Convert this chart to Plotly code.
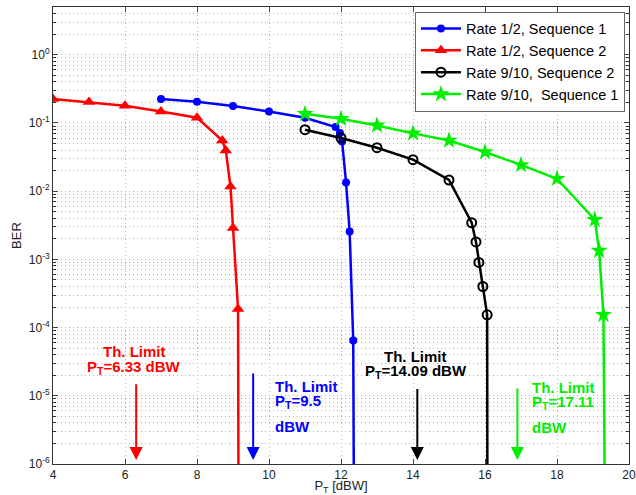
import plotly.graph_objects as go
import numpy as np

# ---------------- data ----------------
red_x = [4, 5, 6, 7, 8, 8.7, 8.8, 8.93, 9.0, 9.14, 9.16]
red_y = [0.224, 0.202, 0.179, 0.147, 0.119, 0.0554, 0.0395, 0.0117, 0.00288, 1.87e-4, 1e-8]

blue_x = [7, 8, 9, 10, 11, 11.85, 11.97, 12.03, 12.14, 12.24, 12.34, 12.37]
blue_y = [0.224, 0.205, 0.177, 0.147, 0.119, 0.0871, 0.0711, 0.0535, 0.0134, 0.00256, 6.47e-5, 1e-8]

black_x = [11, 12, 13, 14, 15, 15.63, 15.75, 15.83, 15.94, 16.06, 16.07]
black_y = [0.0795, 0.0601, 0.0433, 0.0289, 0.01455, 0.00344, 0.00180, 9.0e-4, 4.0e-4, 1.54e-4, 1e-8]

green_x = [11, 12, 13, 14, 15, 16, 17, 18, 19.05, 19.17, 19.29, 19.35]
green_y = [0.136, 0.115, 0.0919, 0.0702, 0.0553, 0.0374, 0.0242, 0.0152, 0.00381, 0.00134, 1.54e-4, 1e-8]

series_names = ["Rate 1/2, Sequence 1", "Rate 1/2, Sequence 2",
                "Rate 9/10, Sequence 2", "Rate 9/10,  Sequence 1"]

x_ticks = [4, 6, 8, 10, 12, 14, 16, 18, 20]
y_exps = [0, -1, -2, -3, -4, -5, -6]

limit_colors = ["#ff0000", "#0000ff", "#000000", "#00ee00"]
limit_arrow_x = [6.31, 9.56, 14.12, 16.9]
limit_values = ["6.33", "9.5", "14.09", "17.11"]

FONT = "Liberation Sans, Arial, Helvetica, sans-serif"
GRID = "#b4b4b4"
GDASH = "1px,3px"

fig = go.Figure()

fig.add_trace(go.Scatter(x=blue_x, y=blue_y, name=series_names[0], mode="lines+markers",
                         line=dict(color="#0000ff", width=2.5),
                         marker=dict(symbol="circle", size=8, color="#0000ff")))
fig.add_trace(go.Scatter(x=red_x, y=red_y, name=series_names[1], mode="lines+markers",
                         line=dict(color="#ff0000", width=2.5),
                         marker=dict(symbol="triangle-up", size=11, color="#ff0000")))
fig.add_trace(go.Scatter(x=black_x, y=black_y, name=series_names[2], mode="lines+markers",
                         line=dict(color="#000000", width=2.5),
                         marker=dict(symbol="circle-open", size=9, color="#000000",
                                     line=dict(width=2, color="#000000"))))
fig.add_trace(go.Scatter(x=green_x, y=green_y, name=series_names[3], mode="lines+markers",
                         line=dict(color="#00ee00", width=2.5),
                         marker=dict(symbol="star", size=13, color="#00ee00")))

minor_vals = [k * 10.0 ** e for e in range(-6, 1) for k in range(2, 10) if k * 10.0 ** e <= 5]

fig.update_xaxes(range=[4, 20], tickvals=x_ticks, ticks="inside", ticklen=5,
                 showline=True, linecolor="#333333", linewidth=1, mirror="allticks",
                 showgrid=True, gridcolor=GRID, griddash=GDASH, gridwidth=1,
                 zeroline=False, tickfont=dict(size=12, color="#222222", family=FONT),
                 title=dict(text="P<sub>T</sub> [dBW]", font=dict(size=13, family=FONT, color="#222222"),
                            standoff=4),
                 automargin=False)
fig.update_yaxes(type="log", range=[-6, np.log10(5)],
                 tickvals=[10.0 ** e for e in y_exps],
                 ticktext=["10<sup>%d</sup>" % e for e in y_exps],
                 ticks="inside", ticklen=5,
                 showline=True, linecolor="#333333", linewidth=1, mirror="allticks",
                 showgrid=True, gridcolor=GRID, griddash=GDASH, gridwidth=1,
                 minor=dict(tickvals=minor_vals, ticks="inside", ticklen=3, showgrid=True,
                            gridcolor=GRID, griddash=GDASH, gridwidth=1, tickcolor="#333333"),
                 zeroline=False, tickfont=dict(size=12, color="#222222", family=FONT),
                 title=dict(text="BER", font=dict(size=13, family=FONT, color="#222222"), standoff=4),
                 automargin=False)

annotations = []
# Red (centered text)
annotations.append(dict(x=6.25, y=-4.35, xref="x", yref="y", text="<b>Th. Limit</b>", showarrow=False,
                        font=dict(color=limit_colors[0], size=15, family=FONT), xanchor="center", yanchor="middle"))
annotations.append(dict(x=6.25, y=-4.58, xref="x", yref="y",
                        text="<b>P<sub>T</sub>=%s dBW</b>" % limit_values[0], showarrow=False,
                        font=dict(color=limit_colors[0], size=15, family=FONT), xanchor="center", yanchor="middle"))
# Black (centered text)
annotations.append(dict(x=14.07, y=-4.42, xref="x", yref="y", text="<b>Th. Limit</b>", showarrow=False,
                        font=dict(color=limit_colors[2], size=15, family=FONT), xanchor="center", yanchor="middle"))
annotations.append(dict(x=14.07, y=-4.64, xref="x", yref="y",
                        text="<b>P<sub>T</sub>=%s dBW</b>" % limit_values[2], showarrow=False,
                        font=dict(color=limit_colors[2], size=15, family=FONT), xanchor="center", yanchor="middle"))
# Blue and green (left aligned, three lines)
for xl, ys, col, val in [(10.1, [-4.86, -5.08, -5.45], limit_colors[1], limit_values[1]),
                         (17.25, [-4.88, -5.10, -5.47], limit_colors[3], limit_values[3])]:
    texts = ["<b>Th. Limit</b>", "<b>P<sub>T</sub>=%s</b>" % val, "<b>dBW</b>"]
    for t, yv in zip(texts, ys):
        annotations.append(dict(x=xl, y=yv, xref="x", yref="y", text=t, showarrow=False,
                                font=dict(color=col, size=15, family=FONT), xanchor="left", yanchor="middle"))

tails = [-4.81, -4.65, -4.88, -4.87]
for xa, col, ty in zip(limit_arrow_x, limit_colors, tails):
    annotations.append(dict(x=xa, y=-5.94, xref="x", yref="y", ax=xa, ay=ty, axref="x", ayref="y",
                            text="", showarrow=True, arrowhead=2, arrowsize=1.3, arrowwidth=2,
                            arrowcolor=col))

fig.update_layout(
    width=636, height=495,
    margin=dict(l=53, r=7, t=7, b=31),
    plot_bgcolor="white", paper_bgcolor="white",
    font=dict(family=FONT),
    annotations=annotations,
    showlegend=True,
    legend=dict(x=0.993, y=0.99, xanchor="right", yanchor="top",
                bgcolor="white", bordercolor="#666666", borderwidth=1,
                font=dict(size=14.5, family=FONT, color="#000000"),
                tracegroupgap=0, itemwidth=40),
)

fig.write_html("out.html", config={"displayModeBar": False},
               post_script="document.body.style.margin='0px';document.body.style.padding='0px';")
